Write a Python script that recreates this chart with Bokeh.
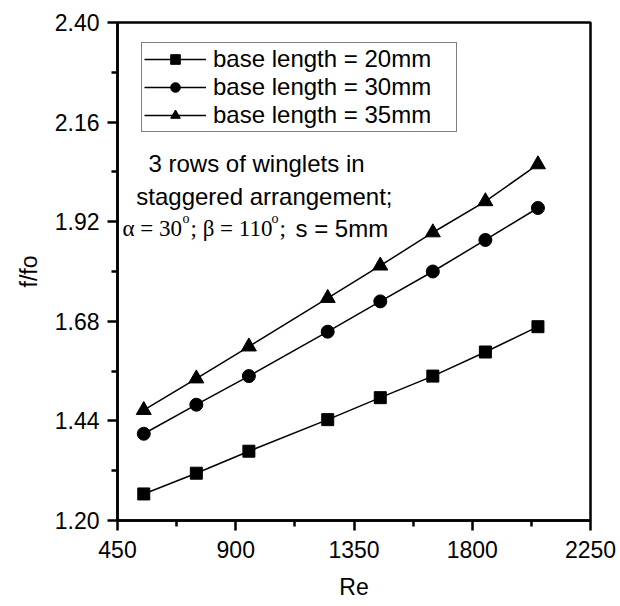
from bokeh.plotting import figure
from bokeh.models import Range1d, FixedTicker, PrintfTickFormatter, Label, Legend, LegendItem
from bokeh.embed import file_html
from bokeh.resources import INLINE

# ---- data ----
re_vals = [550, 750, 950, 1250, 1450, 1650, 1850, 2050]
ff_20mm = [1.264, 1.314, 1.367, 1.443, 1.496, 1.548, 1.606, 1.667]
ff_30mm = [1.409, 1.479, 1.548, 1.655, 1.728, 1.800, 1.876, 1.953]
ff_35mm = [1.466, 1.542, 1.619, 1.736, 1.814, 1.894, 1.969, 2.058]
series_labels = ["base length = 20mm", "base length = 30mm", "base length = 35mm"]
x_ticks = [450, 900, 1350, 1800, 2250]
x_minor = [675, 1125, 1575, 2025]
y_ticks = [1.20, 1.44, 1.68, 1.92, 2.16, 2.40]
y_minor = [1.32, 1.56, 1.80, 2.04, 2.28]

SANS = "Liberation Sans"
SERIF = "Liberation Serif"

p = figure(width=620, height=606, output_backend="svg", toolbar_location=None,
           x_range=Range1d(450, 2250), y_range=Range1d(1.2, 2.4),
           min_border_left=117, min_border_right=30, min_border_top=22, min_border_bottom=86)
p.xgrid.visible = False
p.ygrid.visible = False
p.outline_line_color = "black"
p.outline_line_width = 2.5
p.background_fill_color = "white"
p.border_fill_color = "white"

for ax in (p.xaxis[0], p.yaxis[0]):
    ax.axis_line_width = 2.5
    ax.axis_line_color = "black"
    ax.major_tick_line_width = 2.5
    ax.minor_tick_line_width = 2.5
    ax.major_tick_out = 10
    ax.major_tick_in = 0
    ax.minor_tick_out = 6
    ax.minor_tick_in = 0
    ax.major_label_text_font = SANS
    ax.major_label_text_font_size = "23px"
    ax.major_label_text_color = "black"
    ax.axis_label_text_font = SANS
    ax.axis_label_text_font_size = "23px"
    ax.axis_label_text_font_style = "normal"
    ax.axis_label_text_color = "black"

p.xaxis.ticker = FixedTicker(ticks=x_ticks, minor_ticks=x_minor)
p.yaxis.ticker = FixedTicker(ticks=y_ticks, minor_ticks=y_minor)
p.yaxis.formatter = PrintfTickFormatter(format="%.2f")
p.xaxis.axis_label = "Re"
p.yaxis.axis_label = "f/fo"
p.xaxis.major_label_standoff = 10
p.yaxis.major_label_standoff = 8
p.xaxis.axis_label_standoff = 13
p.yaxis.axis_label_standoff = 10

items = []
specs = [(ff_20mm, "square", 12), (ff_30mm, "circle", 13), (ff_35mm, "triangle", 15)]
for (ys, marker, size), lab in zip(specs, series_labels):
    l = p.line(re_vals, ys, line_color="black", line_width=1.5)
    s = p.scatter(re_vals, ys, marker=marker, size=size, fill_color="black", line_color="black")
    items.append(LegendItem(label=lab, renderers=[l, s]))

legend = Legend(items=items, location=(24, 388))
legend.label_text_font = SANS
legend.label_text_font_size = "24px"
legend.label_text_color = "black"
legend.border_line_color = "black"
legend.border_line_width = 1.2
legend.padding = 2
legend.spacing = -1
legend.margin = 0
legend.label_height = 24
legend.glyph_height = 24
legend.glyph_width = 62
legend.label_width = 241
legend.label_standoff = 7
legend.background_fill_alpha = 1
p.add_layout(legend, "center")

# annotation text
p.add_layout(Label(x=979, y=2.060, text="3 rows of winglets in", text_align="center",
                   text_baseline="alphabetic", text_font=SANS, text_font_size="24px",
                   text_color="black"))
p.add_layout(Label(x=1009, y=1.980, text="staggered arrangement;", text_align="center",
                   text_baseline="alphabetic", text_font=SANS, text_font_size="24px",
                   text_color="black"))
ax0, ay0 = 469, 1.903
pieces = [("\u03b1 = 30", 0, 0, SERIF, "23px"),
          ("o", 60, 10, SERIF, "14px"),
          ("; \u03b2 = 110", 68, 0, SERIF, "23px"),
          ("o", 149, 10, SERIF, "14px"),
          (";", 157, 0, SERIF, "23px"),
          ("s = 5mm", 173, 0, SANS, "24px")]
for txt, dx, dy, font, fs in pieces:
    p.add_layout(Label(x=ax0, y=ay0, x_offset=dx, y_offset=dy, text=txt, text_align="left",
                       text_baseline="alphabetic", text_font=font, text_font_size=fs,
                       text_color="black"))

open("out.html", "w").write(file_html(p, INLINE))
